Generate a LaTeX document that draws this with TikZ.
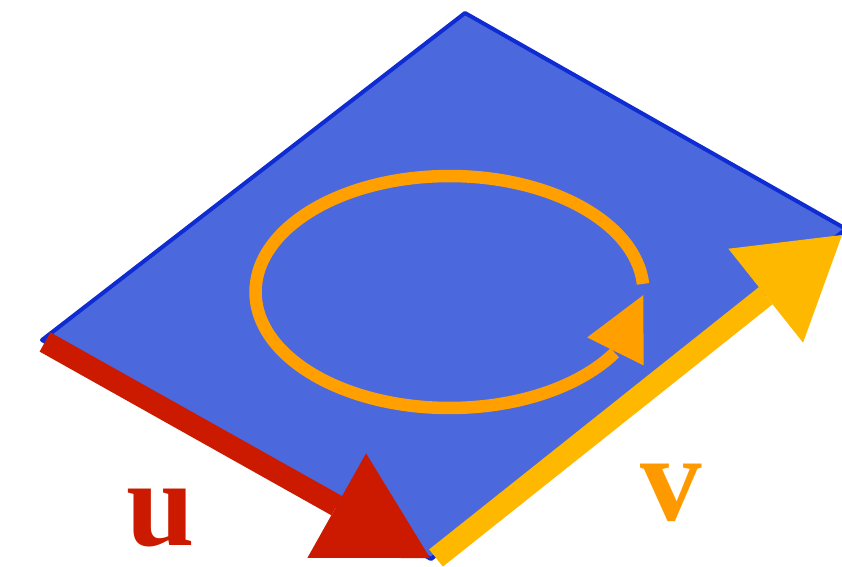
\documentclass[tikz,border=0pt]{standalone}
\usepackage{fontspec}
\setmainfont{Liberation Serif}
\usepackage{xcolor}
\usepackage{tikz}
\usetikzlibrary{arrows.meta, bending, positioning}

\definecolor{planeblue}{RGB}{75,104,221}
\definecolor{edgeblue}{RGB}{14,44,210}
\definecolor{ured}{RGB}{204,26,0}
\definecolor{vyellow}{RGB}{255,184,0}
\definecolor{looporange}{RGB}{255,160,0}
\definecolor{vorange}{RGB}{255,153,0}

\begin{document}
\begin{tikzpicture}[
    x=0.02cm, y=0.02cm,
    plane/.style={fill=planeblue, draw=edgeblue, line width=0.08cm, line join=round},
    vecarrow/.style={draw=#1, line width=0.44cm},
    loop/.style={draw=looporange, line width=0.25cm, -{Triangle[length=1.26cm, width=1.26cm, line width=0pt, flex]}},
    veclabel/.style={text=#1, font=\fontsize{70}{70}\selectfont\bfseries, inner sep=0pt},
]
    \useasboundingbox (0,0) rectangle (842,566);

    % corners of the plane
    \coordinate (left) at (42,226);
    \coordinate (top) at (465,553);
    \coordinate (right) at (846,337);
    \coordinate (bottom) at (431,7);
    \coordinate (centre) at (449.5,274);

    \draw[plane] (left) -- (top) -- (right) -- (bottom) -- cycle;

    % circulation
    \draw[loop] (centre) ++(4:3.88cm and 2.32cm)
        arc[start angle=4, end angle=358.5, x radius=3.88cm, y radius=2.32cm];

    % the two vectors
    \coordinate (vstart) at (436,8);
    \coordinate (vend) at (842,331);
    \coordinate (ustart) at (45,224);
    \coordinate (uend) at (430,8);
    \draw[vecarrow=vyellow, -{Triangle[length=1.95cm, width=2.4cm, line width=0pt]}] (vstart) -- (vend);
    \draw[vecarrow=ured, -{Triangle[length=2.14cm, width=2.4cm, line width=0pt]}] (ustart) -- (uend);

    \node[veclabel=ured] (ulabel) at (161,48) {u};
    \node[veclabel=vorange] (vlabel) at (671,73) {v};
\end{tikzpicture}
\end{document}
